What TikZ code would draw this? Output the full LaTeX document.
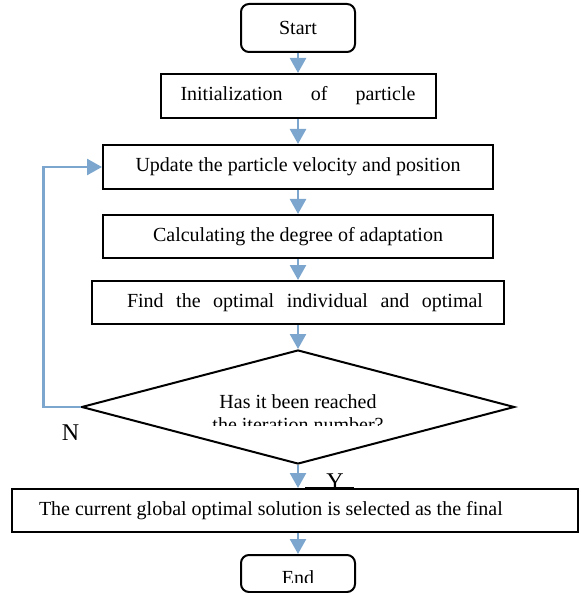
\documentclass[tikz,border=0pt]{standalone}
\usepackage{fontspec}
\setmainfont{Liberation Serif}
\usetikzlibrary{arrows.meta,shapes.geometric}
\definecolor{flowblue}{RGB}{124,166,206}

\begin{document}
\begin{tikzpicture}[->,>={Triangle[width=16pt,length=15pt]},node distance=69pt,
    every node/.style={font=\fontsize{20pt}{23pt}\selectfont},
    flow/.style={draw=flowblue,line width=2.5pt},
    terminal/.style={draw,line width=2pt,rounded corners=8pt,minimum width=114pt,minimum height=48pt,inner sep=0pt},
    process/.style={draw,line width=2pt,minimum height=44pt,inner sep=0pt},
    decision/.style={draw,diamond,line width=2pt,minimum width=433pt,minimum height=114pt,inner sep=0pt},
    label/.style={font=\fontsize{24pt}{28pt}\selectfont}]
    \useasboundingbox (0pt,0pt) rectangle (580pt,-593pt);

    \node (start)  [terminal] at (298pt,-28pt) {Start};
    \node (init)   [process,minimum width=275pt,below of=start,node distance=68pt] {\makebox[235pt][s]{Initialization of particle}};
    \node (update) [process,minimum width=390pt,below of=init,node distance=71pt] {Update the particle velocity and position};
    \node (calc)   [process,minimum width=390pt,minimum height=43pt,below of=update,node distance=69.5pt] {Calculating the degree of adaptation};
    \node (find)   [process,minimum width=412pt,minimum height=43pt,below of=calc,node distance=66pt] {\hspace*{14pt}\makebox[356pt][s]{Find the optimal individual and optimal}};
    \node (dec)    [decision,below of=find,node distance=104.5pt] {};
    \node (final)  [process,minimum width=566pt,minimum height=43pt,
                    below of=dec,node distance=103.5pt,xshift=-3pt] {\makebox[512pt][l]{The current global optimal solution is selected as the final}};
    \node (end)    [terminal,minimum height=37pt,below of=final,node distance=63pt,xshift=3pt] {};

    % texts cut off by their boxes
    \begin{scope}
      \clip (dec.west |- dec.north) rectangle ([yshift=-18pt]dec.east);
      \node (question) [align=center] at ([yshift=-6pt]dec.center) {Has it been reached\\the iteration number?};
    \end{scope}
    \begin{scope}
      \clip (end.north west) rectangle ([yshift=-8.5pt]end.east);
      \node (endtext) at ([yshift=-4.5pt]end.center) {End};
    \end{scope}

    \node (no)  [label] at ([xshift=-10pt,yshift=-26pt]dec.west) {N};
    \node (yes) [label,anchor=base] at ([xshift=40pt,yshift=-1pt]final.north) {Y};
    \draw[-,line width=2.5pt] ([xshift=10pt]final.north) -- ([xshift=59pt]final.north);

    \path (start)  edge[flow] (init);
    \path (init)   edge[flow] (update);
    \path (update) edge[flow] (calc);
    \path (calc)   edge[flow] (find);
    \path (find)   edge[flow] (dec);
    \path (dec)    edge[flow] (dec |- final.north);
    \path (final.south -| end) edge[flow] (end);
    \draw[flow] (dec.west) -- ++(-37pt,0) |- (update.west);
\end{tikzpicture}
\end{document}
